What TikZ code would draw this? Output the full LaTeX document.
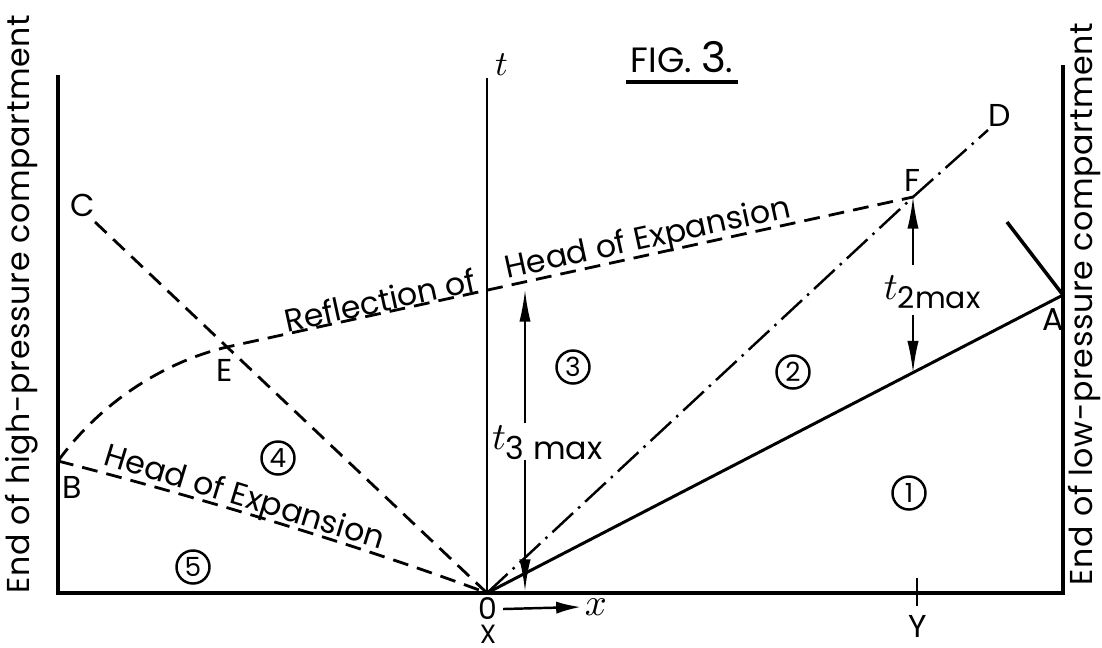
\documentclass[tikz,border=0pt]{standalone}
\usepackage{fontspec}
\setmainfont{Poppins}
\usetikzlibrary{arrows.meta,calc}

\tikzset{
  wall/.style={line width=1pt},
  front/.style={line width=0.8pt, dash pattern=on 4.5pt off 2.6pt},
  chain/.style={line width=0.7pt, dash pattern=on 8pt off 2pt on 0.7pt off 2pt},
  region/.style={draw, circle, line width=0.7pt, inner sep=0pt, minimum size=0.33cm, font=\fontsize{7.5}{8}\selectfont},
  dim/.style={line width=0.55pt, -{Latex[length=9pt,width=3.2pt]}},
  lbl/.style={font=\fontsize{9}{10}\selectfont, inner sep=1pt},
}

\begin{document}
\begin{tikzpicture}[x=0.01cm, y=-0.01cm]
  \useasboundingbox (0,0) rectangle (1102,647);

  % Points
  \def\base{593}
  \coordinate (O) at (487,\base);
  \coordinate (L) at (58,\base);
  \coordinate (R) at (1063,\base);
  \coordinate (Ltop) at (58,75);
  \coordinate (Rtop) at (1063,65);
  \coordinate (ttop) at (487,78);
  \coordinate (B) at (58,461);
  \coordinate (C) at (95,222);
  \coordinate (E) at (227,347);
  \coordinate (F) at (913,197);
  \coordinate (D) at (988,130);
  \coordinate (A) at (1063,295);
  \coordinate (Aend) at (1007,222);
  \coordinate (G) at ($(O)!0.7396!(A)$);

  % Box
  \draw[wall] (Ltop) -- (L) -- (R) -- (Rtop);
  \draw[line width=0.5pt] (O) -- (ttop);
  \node[font=\fontsize{10}{11}\selectfont, anchor=south west, inner sep=1pt] (tlbl) at (491,80) {$t$};

  % Side texts
  \node[lbl, rotate=90] (hpc) at (22,304) {\addfontfeatures{LetterSpace=2}End of high-pressure compartment};
  \node[lbl, rotate=90] (lpc) at (1085,304) {\addfontfeatures{LetterSpace=2}End of low-pressure compartment};

  % Title
  \node[font=\fontsize{10}{11}\selectfont, inner sep=1pt] (fig) at (682,57) {FIG. {\fontsize{12}{13}\selectfont 3}.};
  \draw[line width=1.2pt] ([yshift=-1.5pt]fig.south west) -- ([yshift=-1.5pt]fig.south east);

  % Waves
  \draw[front] (B) .. controls (230,505) and (400,560) .. (O);
  \draw[front] (B) .. controls (110,390) and (180,358) .. (E) -- (F);
  \draw[front] (C) -- (O);
  \draw[chain] (O) -- (F) -- (D);
  \draw[line width=0.85pt] (O) -- (A);
  \draw[wall] (Aend) -- (A);

  % Wave labels
  \node[lbl, rotate=-17] (hoe) at (244,499) {Head of Expansion};
  \node[lbl, rotate=12.3] (rfl) at (380,300) {Reflection of};
  \node[lbl, rotate=12.3] (rhoe) at (648,240) {Head of Expansion};

  % Points labels
  \node[lbl] (Blbl) at (72,487) {B};
  \node[lbl] (Clbl) at (83,205) {C};
  \node[lbl] (Elbl) at (225,370) {E};
  \node[lbl] (Flbl) at (912,180) {F};
  \node[lbl] (Dlbl) at (1000,115) {D};
  \node[lbl] (Albl) at (1053,320) {A};

  % t_3max
  \coordinate (H3top) at (525,290);
  \coordinate (H3a) at (525,423);
  \coordinate (H3b) at (525,460);
  \coordinate (H3bot) at (525,591);
  \draw[dim] (H3a) -- (H3top);
  \draw[dim] (H3b) -- (H3bot);
  \node[font=\fontsize{11}{12}\selectfont, inner sep=0pt] (t3) at (548,443) {$t_{\hbox{\fontsize{9}{10}\selectfont 3 max}}$};

  % t_2max
  \coordinate (H2a) at (913,265);
  \coordinate (H2b) at (913,315);
  \draw[dim] (H2a) -- (F);
  \draw[dim] (H2b) -- (G);
  \node[font=\fontsize{11}{12}\selectfont, inner sep=0pt] (t2) at (933,292) {$t_{\hbox{\fontsize{8.5}{10}\selectfont 2max}}$};

  % Regions
  \node[region] (r1) at (909,493) {1};
  \node[region] (r2) at (793,372) {2};
  \node[region] (r3) at (573,367) {3};
  \node[region] (r4) at (278,458) {4};
  \node[region] (r5) at (193,567) {5};

  % Foot
  \coordinate (Ytop) at (917,578);
  \coordinate (Ybot) at (917,606);
  \draw[line width=0.8pt] (Ytop) -- (Ybot);
  \node[lbl] (Ylbl) at (918,626) {Y};
  \node[inner sep=0pt, font=\fontsize{8.5}{9}\selectfont] (zero) at (488,609) {0};
  \node[inner sep=0pt, font=\fontsize{7.5}{8}\selectfont] (Xlbl) at (488,634) {X};
  \node[font=\fontsize{11}{12}\selectfont, inner sep=1pt] (xlbl) at (596,607) {$x$};
  \draw[line width=0.7pt, -{Latex[length=7pt,width=3.5pt]}] (zero.east) ++(5,0) coordinate (xs) -- (xlbl.west);
\end{tikzpicture}
\end{document}
